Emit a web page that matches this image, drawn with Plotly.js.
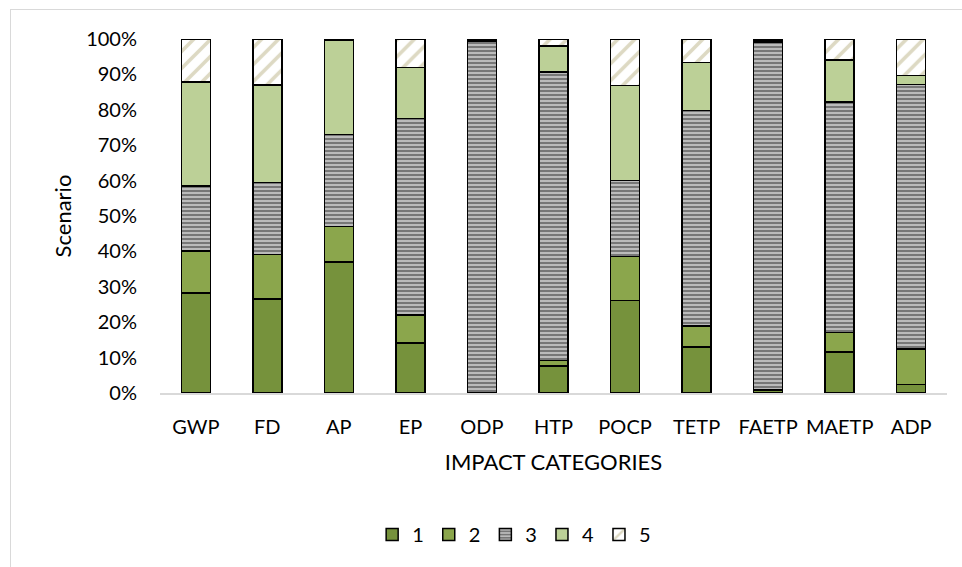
<!DOCTYPE html>
<html>
<head>
<meta charset="utf-8">
<script src="https://cdn.plot.ly/plotly-3.0.1.min.js"></script>
<style>
  html, body { margin: 0; padding: 0; background: #fff; }
  #wrap { position: relative; width: 962px; height: 567px; overflow: hidden; }
  #frame { position: absolute; left: 10px; top: 9px; width: 980px; height: 600px; border: 1px solid #d9d9d9; box-sizing: border-box; pointer-events: none; }
  #chart { position: absolute; left: 0; top: 0; width: 962px; height: 567px; }
</style>
</head>
<body>
<div id="wrap">
  <div id="chart"></div>
  <div id="frame"></div>
</div>
<script>
const categories = ["GWP", "FD", "AP", "EP", "ODP", "HTP", "POCP", "TETP", "FAETP", "MAETP", "ADP"];
const seriesNames = ["1", "2", "3", "4", "5"];
// percentage shares per scenario
const s1 = [28.3, 26.5, 37.0, 14.1, 0.0, 7.6, 26.1, 13.0, 0.8, 11.6, 2.4];
const s2 = [11.8, 12.6, 10.1, 7.9, 0.0, 1.6, 12.5, 5.9, 0.2, 5.5, 10.0];
const s3 = [18.4, 20.4, 25.9, 55.5, 99.5, 81.5, 21.4, 60.9, 98.0, 65.1, 74.8];
const s4 = [29.3, 27.5, 26.7, 14.5, 0.3, 7.3, 26.8, 13.6, 0.5, 11.8, 2.5];
const s5 = [12.2, 13.0, 0.3, 8.0, 0.2, 2.0, 13.2, 6.6, 0.5, 6.0, 10.3];
const yTickVals = [0, 10, 20, 30, 40, 50, 60, 70, 80, 90, 100];
const yTickText = ["0%", "10%", "20%", "30%", "40%", "50%", "60%", "70%", "80%", "90%", "100%"];

const FONT = "Lato, sans-serif";
const line = { color: "#000000", width: 1.5 };

const styles = [
  { color: "#76923c", line: line },
  { color: "#8ba64c", line: line },
  { color: "#7f7f7f", line: line, pattern: { shape: "-", bgcolor: "#777777", fgcolor: "#ffffff", size: 4, solidity: 0.25, fillmode: "replace" } },
  { color: "#bcd097", line: line },
  { color: "#ffffff", line: line, pattern: { shape: "/", bgcolor: "#ffffff", fgcolor: "#ddd9c3", size: 12, solidity: 0.3, fillmode: "replace" } }
];

const allSeries = [s1, s2, s3, s4, s5];
const traces = allSeries.map((vals, i) => ({
  type: "bar",
  name: seriesNames[i],
  x: categories,
  y: vals,
  marker: styles[i],
  hoverinfo: "x+y+name"
}));

const layout = {
  width: 962,
  height: 567,
  barmode: "stack",
  barnorm: "percent",
  bargap: 0.595,
  paper_bgcolor: "#ffffff",
  plot_bgcolor: "#ffffff",
  margin: { l: 160, r: 15, t: 39, b: 174 },
  font: { family: FONT, size: 20, color: "#000000" },
  xaxis: {
    type: "category",
    showline: true,
    linecolor: "#d9d9d9",
    linewidth: 1.5,
    ticks: "",
    showgrid: false,
    ticklabelstandoff: 15,
    tickfont: { family: FONT, size: 20, color: "#000000" },
    title: { text: "IMPACT CATEGORIES", font: { family: FONT, size: 22, color: "#000000" }, standoff: 18 }
  },
  yaxis: {
    range: [0, 100],
    tickvals: yTickVals,
    ticktext: yTickText,
    showgrid: false,
    zeroline: false,
    showline: false,
    ticks: "",
    ticklabelstandoff: 22,
    tickfont: { family: FONT, size: 20, color: "#000000" },
    title: { text: "Scenario", font: { family: FONT, size: 22, color: "#000000" }, standoff: 8 }
  },
  legend: {
    orientation: "h",
    x: 0.45,
    xanchor: "center",
    y: -0.4,
    yanchor: "middle",
    font: { family: FONT, size: 20, color: "#000000" },
    itemwidth: 30,
    tracegroupgap: 0,
    traceorder: "normal"
  },
  showlegend: true
};

Plotly.newPlot("chart", traces, layout, { displayModeBar: false, staticPlot: true });
</script>
</body>
</html>
